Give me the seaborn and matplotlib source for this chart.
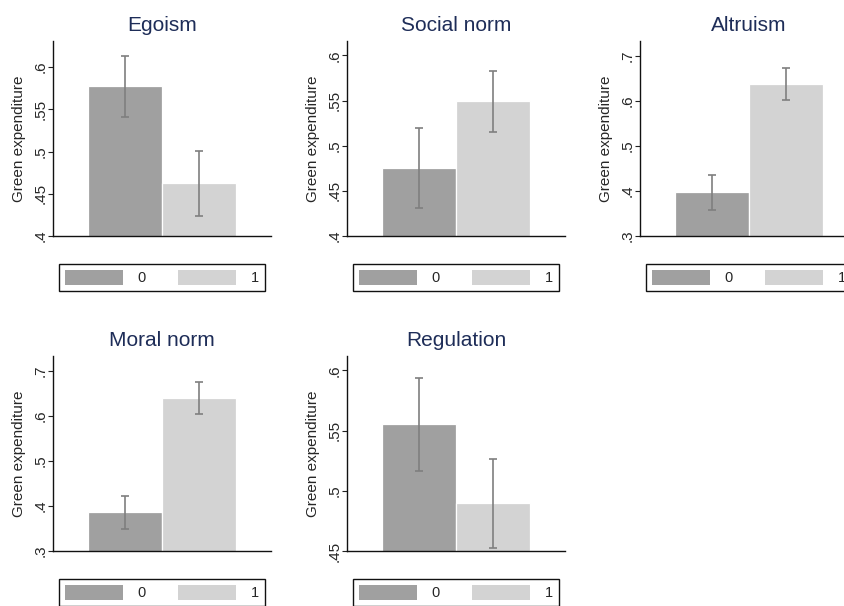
import numpy as np
import pandas as pd
import matplotlib
matplotlib.use("Agg")
import matplotlib.pyplot as plt
from matplotlib.patches import Patch
from matplotlib.ticker import FuncFormatter
import seaborn as sns

# ---- data ----
titles = ["Egoism", "Social norm", "Altruism", "Moral norm", "Regulation"]
groups = ["0", "1"]
means = [
    [0.5775, 0.4624],
    [0.4752, 0.5493],
    [0.3969, 0.6370],
    [0.3867, 0.6407],
    [0.5557, 0.4902],
]
ci_low = [
    [0.5405, 0.4237],
    [0.4313, 0.5154],
    [0.3583, 0.6016],
    [0.3482, 0.6044],
    [0.5168, 0.4527],
]
ci_high = [
    [0.6130, 0.5002],
    [0.5191, 0.5825],
    [0.4346, 0.6725],
    [0.4229, 0.6763],
    [0.5937, 0.5265],
]
yticks = [
    [0.40, 0.45, 0.50, 0.55, 0.60],
    [0.40, 0.45, 0.50, 0.55, 0.60],
    [0.3, 0.4, 0.5, 0.6, 0.7],
    [0.3, 0.4, 0.5, 0.6, 0.7],
    [0.45, 0.50, 0.55, 0.60],
]
ylims = [
    (0.40, 0.631),
    (0.40, 0.616),
    (0.30, 0.733),
    (0.30, 0.733),
    (0.45, 0.612),
]
ylabel = "Green expenditure"

# ---- style ----
sns.set_style("white")
plt.rcParams["font.family"] = ["Liberation Sans", "DejaVu Sans"]

W, H = 844, 606
fig = plt.figure(figsize=(W / 100, H / 100), dpi=100)

c0, c1 = "#a0a0a0", "#d3d3d3"
title_color = "#1e2d58"

col_left = [53, 347, 640]
row_top = [41, 356]
ax_w, ax_h = 218, 195


def fmt(v, pos):
    s = f"{v:.2f}".rstrip("0")
    if s.startswith("0"):
        s = s[1:]
    return s


for i, title in enumerate(titles):
    r, c = divmod(i, 3)
    left = col_left[c]
    top = row_top[r]
    ax = fig.add_axes([left / W, 1 - (top + ax_h) / H, ax_w / W, ax_h / H])
    df = pd.DataFrame({"group": groups, "value": means[i]})
    sns.barplot(data=df, x="group", y="value", hue="group",
                palette=[c0, c1], width=1, errorbar=None, legend=False,
                edgecolor="white", linewidth=0.9, ax=ax)
    m = np.array(means[i])
    lo = np.array(ci_low[i])
    hi = np.array(ci_high[i])
    ax.errorbar([0, 1], m, yerr=[m - lo, hi - m], fmt="none",
                ecolor="#7f7f7f", elinewidth=1.2, capsize=3.2, capthick=1.2)
    ax.set_xlim(-0.97, 1.97)
    ax.set_ylim(*ylims[i])
    ax.set_yticks(yticks[i])
    ax.yaxis.set_major_formatter(FuncFormatter(fmt))
    ax.set_xticks([])
    ax.set_xlabel("")
    ax.set_ylabel(ylabel, fontsize=11)
    ax.yaxis.set_label_coords(-0.125, 0.5)
    ax.tick_params(axis="y", left=True, length=3.6, width=0.8,
                   color="#222222", labelsize=11, pad=0.4, labelrotation=90)
    for lab in ax.get_yticklabels():
        lab.set_va("center")
    for s in ["top", "right"]:
        ax.spines[s].set_visible(False)
    for s in ["left", "bottom"]:
        ax.spines[s].set_color("#111111")
        ax.spines[s].set_linewidth(1.0)
    ax.set_title(title, fontsize=15, color=title_color, pad=7)

    handles = [Patch(facecolor=c0, edgecolor="none"),
               Patch(facecolor=c1, edgecolor="none")]
    leg_top = top + ax_h + 28
    leg_cx = left + ax_w / 2
    leg = ax.legend(handles, groups, loc="upper center",
                    bbox_to_anchor=(leg_cx / W, 1 - leg_top / H),
                    bbox_transform=fig.transFigure, ncol=2, fontsize=10.5,
                    handlelength=4.0, handleheight=1.2, handletextpad=1.0,
                    columnspacing=2.2, borderpad=0.4, borderaxespad=0,
                    fancybox=False, frameon=True, framealpha=1)
    leg.get_frame().set_edgecolor("#111111")
    leg.get_frame().set_linewidth(1.0)

fig.savefig("out.png", dpi=100)
